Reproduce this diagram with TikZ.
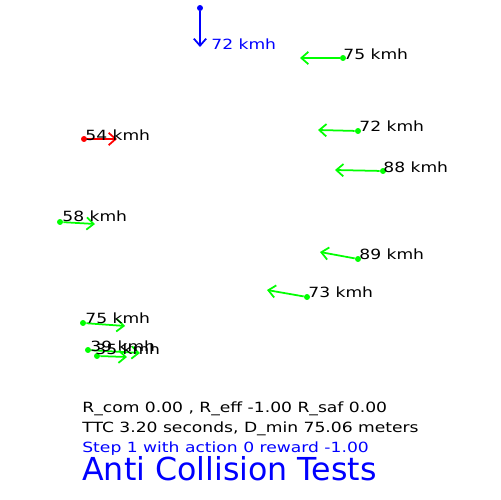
\documentclass[tikz,border=0pt]{standalone}
\usepackage{fontspec}
\setmainfont{DejaVu Sans}
\newfontfamily\widesans[FakeStretch=1.22]{DejaVu Sans}
\usetikzlibrary{arrows.meta}

\begin{document}
\begin{tikzpicture}[x=0.02cm, y=-0.02cm,
            car/.style={circle, fill, inner sep=0pt, minimum size=3.4pt},
            vel/.style={line width=1pt, -{Straight Barb[length=4pt, width=7pt]}},
            speed/.style={anchor=base west, inner sep=0pt, font=\widesans\fontsize{8}{9}\selectfont},
            info/.style={anchor=base west, inner sep=0pt, font=\widesans\fontsize{8}{9}\selectfont},
            title/.style={anchor=base west, inner sep=0pt, font=\fontsize{18}{20}\selectfont}
        ]
    \useasboundingbox (0,0) rectangle (500,500);

    % ego
    \node[car, blue] (ego) at (200,8) {};
    \coordinate (egoend) at (200,47);
    \draw[vel, blue] (ego) -- (egoend);
    \node[speed, text=blue] (egolbl) at (211,50) {72 kmh};

    % other traffic
    \node[car, green] (car1) at (343,58) {};
    \coordinate (car1end) at (300,58);
    \draw[vel, green] (car1) -- (car1end);
    \node[speed] (car1lbl) at (343,60) {75 kmh};

    \node[car, red] (car2) at (84,139) {};
    \coordinate (car2end) at (117,139);
    \draw[vel, red] (car2) -- (car2end);
    \node[speed] (car2lbl) at (85,140) {54 kmh};

    \node[car, green] (car3) at (358,131) {};
    \coordinate (car3end) at (318,130);
    \draw[vel, green] (car3) -- (car3end);
    \node[speed] (car3lbl) at (359,132) {72 kmh};

    \node[car, green] (car4) at (383,171) {};
    \coordinate (car4end) at (335,170);
    \draw[vel, green] (car4) -- (car4end);
    \node[speed] (car4lbl) at (383,172) {88 kmh};

    \node[car, green] (car5) at (60,222) {};
    \coordinate (car5end) at (95,224);
    \draw[vel, green] (car5) -- (car5end);
    \node[speed] (car5lbl) at (62,221) {58 kmh};

    \node[car, green] (car6) at (358,259) {};
    \coordinate (car6end) at (320,252);
    \draw[vel, green] (car6) -- (car6end);
    \node[speed] (car6lbl) at (359,259) {89 kmh};

    \node[car, green] (car7) at (307,297) {};
    \coordinate (car7end) at (267,290);
    \draw[vel, green] (car7) -- (car7end);
    \node[speed] (car7lbl) at (308,297) {73 kmh};

    \node[car, green] (car8) at (83,323) {};
    \coordinate (car8end) at (125,326);
    \draw[vel, green] (car8) -- (car8end);
    \node[speed] (car8lbl) at (85,323) {75 kmh};

    \node[car, green] (car9) at (88,350) {};
    \coordinate (car9end) at (140,353);
    \draw[vel, green] (car9) -- (car9end);
    \node[speed] (car9lbl) at (90,351) {39 kmh};

    \node[car, green] (car10) at (97,356) {};
    \coordinate (car10end) at (127,357);
    \draw[vel, green] (car10) -- (car10end);
    \node[speed] (car10lbl) at (95,354) {35 kmh};

    % status text
    \node[info] (rew) at (82,412) {R\_com 0.00 , R\_eff -1.00 R\_saf 0.00};
    \node[info] (ttc) at (82,432) {TTC 3.20 seconds, D\_min 75.06 meters};
    \node[info, text=blue] (step) at (82,452) {Step 1 with action 0 reward -1.00};
    \node[title, text=blue] (ttl) at (82,480) {Anti Collision Tests};

\end{tikzpicture}
\end{document}
